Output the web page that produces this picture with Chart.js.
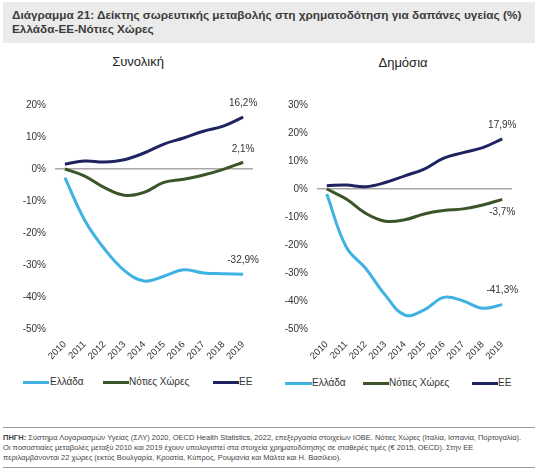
<!DOCTYPE html>
<html>
<head>
<meta charset="utf-8">
<script src="https://cdn.jsdelivr.net/npm/chart.js@4/dist/chart.umd.min.js"></script>
<style>
  html, body { margin:0; padding:0; background:#fff; width:557px; height:469px; overflow:hidden; font-family:"Liberation Sans", Arial, sans-serif; }
  .abs { position:absolute; }
  #titlebox { left:3px; top:2px; width:532px; height:41px; background:#ebebeb; }
  #title { left:12px; top:8px; font-weight:bold; font-size:11.8px; line-height:14px; color:#3b3b3b; white-space:nowrap; }
  .sub { font-size:13px; color:#222; white-space:nowrap; transform:translateX(-50%); }
  .leg { font-size:10px; color:#333; white-space:nowrap; }
  .legline { height:3px; }
  .rule { left:3px; width:532px; height:1px; background:#9a9a9a; }
  #foot { left:3px; top:433px; font-size:7.5px; line-height:10px; color:#444; white-space:nowrap; }
</style>
</head>
<body>
<div id="titlebox" class="abs"></div>
<div id="title" class="abs">Διάγραμμα 21: Δείκτης σωρευτικής μεταβολής στη χρηματοδότηση για δαπάνες υγείας (%)<br>Ελλάδα-ΕΕ-Νότιες Χώρες</div>
<div class="abs sub" style="left:138px;top:54px;">Συνολική</div>
<div class="abs sub" style="left:403px;top:55px;">Δημόσια</div>

<canvas id="c1" class="abs" width="275" height="270" style="left:0px;top:90px;"></canvas>
<canvas id="c2" class="abs" width="295" height="270" style="left:262px;top:90px;"></canvas>

<div id="leg1"></div>
<div id="leg2"></div>

<div class="abs rule" style="top:427px;"></div>
<div id="foot" class="abs"><b>ΠΗΓΗ:</b> Σύστημα Λογαριασμών Υγείας (ΣΛΥ) 2020, OECD Health Statistics, 2022, επεξεργασία στοιχείων ΙΟΒΕ. Νότιες Χώρες (Ιταλία, Ισπανία, Πορτογαλία).<br>Οι ποσοστιαίες μεταβολές μεταξύ 2010 και 2019 έχουν υπολογιστεί στα στοιχεία χρηματοδότησης σε σταθερές τιμές (€ 2015, OECD). Στην ΕΕ<br>περιλαμβάνονται 22 χώρες (εκτός Βουλγαρία, Κροατία, Κύπρος, Ρουμανία και Μάλτα και Η. Βασίλειο).</div>
<div class="abs rule" style="top:467px;"></div>

<script>
// ---- data ----
const years = ['2010','2011','2012','2013','2014','2015','2016','2017','2018','2019'];
const seriesNames = ['Ελλάδα', 'Νότιες Χώρες', 'ΕΕ'];

// Συνολική (total)
const totalGreece   = [-2.7, -16.0, -25.0, -31.7, -35.0, -33.5, -31.5, -32.5, -32.7, -32.9];
const totalSouth    = [0.0, -2.2, -5.8, -8.2, -7.3, -4.2, -3.2, -1.9, -0.1, 2.1];
const totalEU       = [1.5, 2.5, 2.2, 2.9, 5.0, 7.8, 9.7, 11.8, 13.4, 16.2];
const totalTicks    = [20, 10, 0, -10, -20, -30, -40, -50];

// Δημόσια (public)
const publicGreece  = [-1.8, -20.7, -28.4, -37.9, -45.0, -43.2, -38.7, -40.0, -42.6, -41.3];
const publicSouth   = [0.0, -3.6, -8.7, -11.5, -11.0, -8.9, -7.7, -7.1, -5.7, -3.7];
const publicEU      = [1.2, 1.4, 0.8, 2.3, 4.7, 7.1, 11.0, 13.0, 14.8, 17.9];
const publicTicks   = [30, 20, 10, 0, -10, -20, -30, -40, -50];

// ---- styles ----
const colors = ['#3fb1e3', '#3b5528', '#1e2460'];
const FONT = '"Liberation Sans", Arial, sans-serif';

const endLabelPlugin = {
  id: 'endLabels',
  afterDatasetsDraw(chart, args, opts) {
    const ctx = chart.ctx;
    ctx.save();
    ctx.font = '10px ' + FONT;
    ctx.fillStyle = '#333';
    ctx.textAlign = 'center';
    ctx.textBaseline = 'middle';
    chart.data.datasets.forEach((ds, i) => {
      const meta = chart.getDatasetMeta(i);
      const last = meta.data[meta.data.length - 1];
      const v = ds.data[ds.data.length - 1];
      const txt = v.toFixed(1).replace('.', ',') + '%';
      const dy = (opts.offsets && opts.offsets[i] != null) ? opts.offsets[i] : -14;
      ctx.fillText(txt, last.x, last.y + dy);
    });
    ctx.restore();
  }
};

function makeChart(id, dataArrays, ticks, padRight, padTop, offsets) {
  const min = Math.min(...ticks), max = Math.max(...ticks);
  return new Chart(document.getElementById(id), {
    type: 'line',
    data: {
      labels: years,
      datasets: dataArrays.map((d, i) => ({
        label: seriesNames[i],
        data: d,
        borderColor: colors[i],
        backgroundColor: colors[i],
        borderWidth: 3,
        pointRadius: 0,
        tension: 0.4,
        fill: false,
        clip: false
      }))
    },
    options: {
      responsive: false,
      animation: false,
      devicePixelRatio: 1,
      layout: { padding: { left: 0, right: padRight, top: padTop, bottom: 0 } },
      plugins: {
        legend: { display: false },
        tooltip: { enabled: false },
        endLabels: { offsets: offsets }
      },
      scales: {
        x: {
          type: 'category',
          offset: true,
          grid: { display: false },
          border: { display: false },
          ticks: {
            minRotation: 45, maxRotation: 45, autoSkip: false, padding: 2,
            font: { family: FONT, size: 9.5 }, color: '#333'
          },
          afterFit(s) { s.height = 31; }
        },
        y: {
          min: min, max: max,
          border: { display: false },
          grid: {
            drawTicks: false,
            lineWidth: 1.5,
            color: (c) => (c.tick && c.tick.value === 0) ? '#a8a8a8' : 'rgba(0,0,0,0)'
          },
          ticks: {
            stepSize: 10, padding: 9,
            font: { family: FONT, size: 10 }, color: '#333',
            callback: (v) => v + '%'
          },
          afterFit(s) { s.width = 55; }
        }
      }
    },
    plugins: [endLabelPlugin]
  });
}

makeChart('c1', [totalGreece, totalSouth, totalEU], totalTicks, 22, 15, [-14, -13, -14]);
makeChart('c2', [publicGreece, publicSouth, publicEU], publicTicks, 45, 14, [-14, 13, -14]);

// ---- HTML legends ----
function legend(containerId, items) {
  const c = document.getElementById(containerId);
  items.forEach((it, i) => {
    const l = document.createElement('div');
    l.className = 'abs legline';
    l.style.left = it.lx + 'px'; l.style.top = (it.y - 1.5) + 'px';
    l.style.width = it.lw + 'px'; l.style.background = colors[i];
    c.appendChild(l);
    const t = document.createElement('div');
    t.className = 'abs leg';
    t.style.left = it.tx + 'px'; t.style.top = (it.y - 6) + 'px';
    t.textContent = seriesNames[i];
    c.appendChild(t);
  });
}
legend('leg1', [
  { lx: 23, lw: 26, tx: 50, y: 382 },
  { lx: 103, lw: 26, tx: 129, y: 382 },
  { lx: 213, lw: 26, tx: 239, y: 382 }
]);
legend('leg2', [
  { lx: 285, lw: 27, tx: 312, y: 383 },
  { lx: 363, lw: 26, tx: 389, y: 383 },
  { lx: 472, lw: 26, tx: 498, y: 383 }
]);
</script>
</body>
</html>
